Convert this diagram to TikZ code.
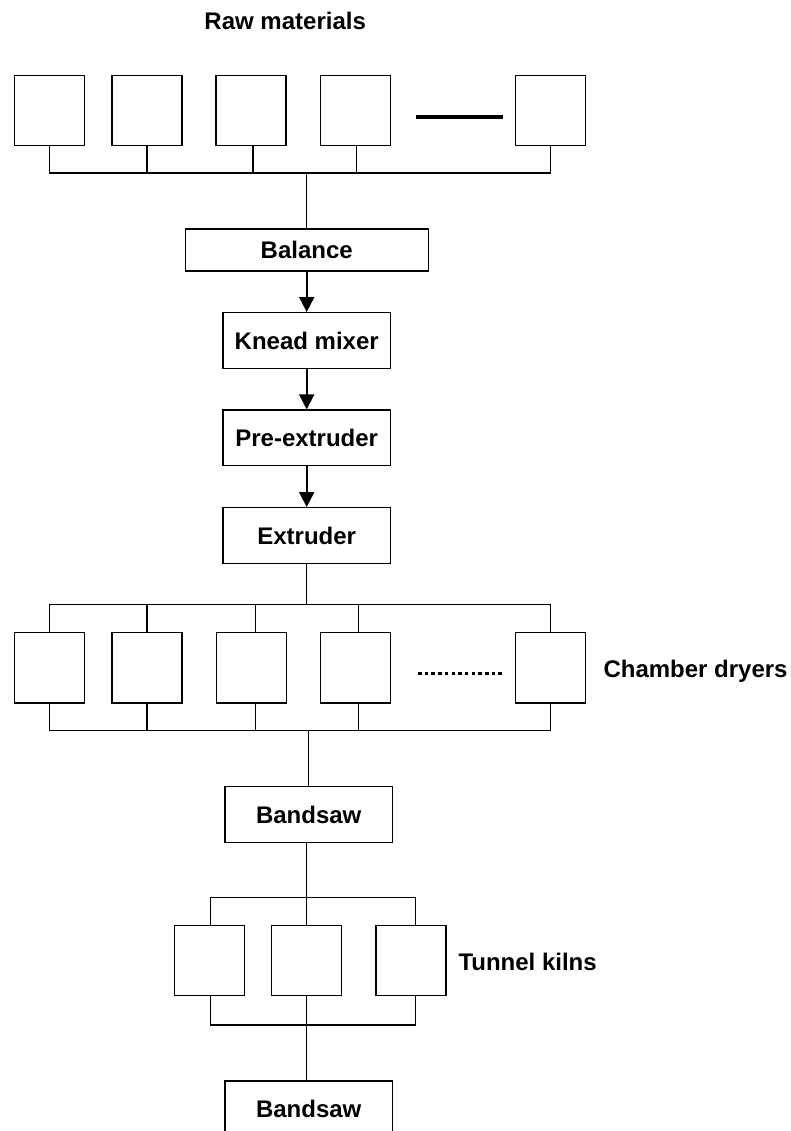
\documentclass[tikz,border=0pt]{standalone}
\usepackage{fontspec}
\setmainfont{Liberation Sans}
\usetikzlibrary{arrows.meta,calc}
\tikzset{
  box/.style={draw, line width=1.3pt, inner sep=0pt, fill=white},
  sq/.style={box, minimum width=70pt, minimum height=70pt},
  proc/.style={box, minimum width=167.5pt, minimum height=55.7pt},
  conn/.style={line width=1.3pt},
  arr/.style={line width=2pt, -{Triangle[width=15pt,length=15pt]}},
  lbl/.style={font=\fontsize{24}{28}\selectfont\bfseries, inner sep=0pt},
}
\begin{document}
\begin{tikzpicture}[x=1pt,y=-1pt]
\useasboundingbox (0,0) rectangle (791,1131);
% title
\node[lbl, anchor=base] (title) at (285.2,29.3) {Raw materials};
% raw material boxes
\node[sq] (r1) at (49.5,110.7) {};
\node[sq] (r2) at (146.9,110.7) {};
\node[sq] (r3) at (251.1,110.7) {};
\node[sq] (r4) at (355.8,110.7) {};
\node[sq] (r5) at (550.4,110.7) {};
\coordinate (r3s) at ($(r3.south)+(2,0)$);
\coordinate (r4s) at ($(r4.south)+(1,0)$);
\coordinate (dashL) at (416,117.3);
\coordinate (dashR) at (503.3,117.3);
\draw[line width=4pt] (dashL) -- (dashR);
\coordinate (rbus) at (0,173);
% process column
\node[box, minimum width=243pt, minimum height=42pt, lbl, draw] (bal) at (306.7,250) {Balance};
\node[proc, lbl, draw] (knead) at (306.7,340.5) {Knead mixer};
\node[proc, lbl, draw] (pre) at (306.7,437.9) {Pre-extruder};
\node[proc, lbl, draw] (ext) at (306.7,535.5) {Extruder};
\draw[conn] (r1.south) -- (r1.south |- rbus) -- (r5.south |- rbus) -- (r5.south);
\draw[conn] (r2.south) -- (r2.south |- rbus);
\draw[conn] (r3s) -- (r3s |- rbus);
\draw[conn] (r4s) -- (r4s |- rbus);
\draw[conn] (bal.north |- rbus) -- (bal.north);
\draw[arr] (bal.south) -- (knead.north);
\draw[arr] (knead.south) -- (pre.north);
\draw[arr] (pre.south) -- (ext.north);
% chamber dryers
\coordinate (cbusT) at (0,604.5);
\coordinate (cbusB) at (0,730.7);
\node[sq, minimum height=70.5pt] (c1) at (49.5,667.8) {};
\node[sq, minimum height=70.5pt] (c2) at (147,667.8) {};
\node[sq, minimum height=70.5pt] (c3) at (251.2,667.8) {};
\node[sq, minimum height=70.5pt] (c4) at (355.7,667.8) {};
\node[sq, minimum height=70.5pt] (c5) at (550.3,667.8) {};
\coordinate (c3t) at ($(c3.north)+(4,0)$);
\coordinate (c3b) at ($(c3.south)+(4,0)$);
\coordinate (c4t) at ($(c4.north)+(2.8,0)$);
\coordinate (c4b) at ($(c4.south)+(2.8,0)$);
\coordinate (dotL) at (418,673.5);
\coordinate (dotR) at (502,673.5);
\draw[line width=3.6pt, dash pattern=on 3.5pt off 3.2pt] (dotL) -- (dotR);
\node[lbl, anchor=base west] (chl) at (603.3,677.3) {Chamber dryers};
\draw[conn] (ext.south) -- (ext.south |- cbusT);
\draw[conn] (c1.north) -- (c1.north |- cbusT) -- (c5.north |- cbusT) -- (c5.north);
\draw[conn] (c1.south) -- (c1.south |- cbusB) -- (c5.south |- cbusB) -- (c5.south);
\draw[conn] (c2.north) -- (c2.north |- cbusT);
\draw[conn] (c2.south) -- (c2.south |- cbusB);
\draw[conn] (c3t) -- (c3t |- cbusT);
\draw[conn] (c3b) -- (c3b |- cbusB);
\draw[conn] (c4t) -- (c4t |- cbusT);
\draw[conn] (c4b) -- (c4b |- cbusB);
% bandsaw 1
\node[proc, lbl, draw, minimum height=56pt] (bs1) at (308.7,814.5) {Bandsaw};
\draw[conn] (bs1.north |- cbusB) -- (bs1.north);
% tunnel kilns
\coordinate (kbusT) at (0,897.5);
\coordinate (kbusB) at (0,1025);
\node[sq, minimum height=69.6pt] (k1) at (209.5,960.5) {};
\node[sq, minimum height=69.6pt] (k2) at (306.8,960.5) {};
\node[sq, minimum height=69.6pt] (k3) at (411,960.5) {};
\coordinate (k1t) at ($(k1.north)+(1.2,0)$);
\coordinate (k1b) at ($(k1.south)+(1.2,0)$);
\coordinate (k3t) at ($(k3.north)+(4.7,0)$);
\coordinate (k3b) at ($(k3.south)+(4.7,0)$);
\node[lbl, anchor=base west] (tkl) at (458.3,970) {Tunnel kilns};
\draw[conn] (bs1.south -| k2.north) -- (k2.north);
\draw[conn] (k1t) -- (k1t |- kbusT) -- (k3t |- kbusT) -- (k3t);
\draw[conn] (k1b) -- (k1b |- kbusB) -- (k3b |- kbusB) -- (k3b);
\draw[conn] (k2.south) -- (k2.south |- kbusB);
% bandsaw 2
\node[proc, lbl, draw, minimum height=56pt] (bs2) at (308.7,1109) {Bandsaw};
\draw[conn] (bs2.north -| k2.south) -- (k2.south);
\end{tikzpicture}
\end{document}
